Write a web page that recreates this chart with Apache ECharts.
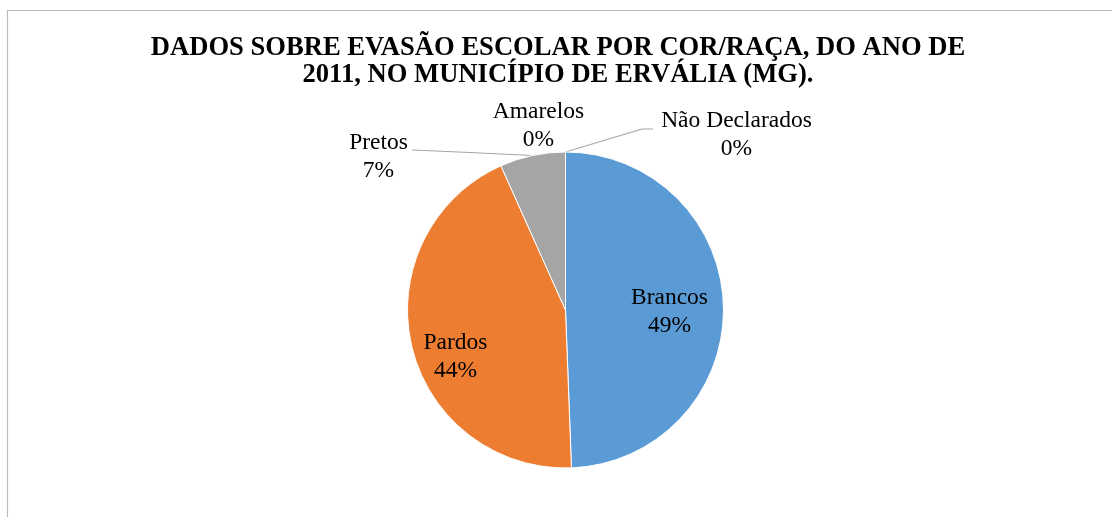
<!DOCTYPE html>
<html>
<head>
<meta charset="utf-8">
<script src="https://cdn.jsdelivr.net/npm/echarts@6/dist/echarts.min.js"></script>
<style>
html,body{margin:0;padding:0;background:#fff;}
#chart{width:1112px;height:517px;}
</style>
</head>
<body>
<div id="chart"></div>
<script>
const categories = ['Brancos', 'Pardos', 'Pretos', 'Amarelos', 'Não Declarados'];
const values = [49.4, 43.9, 6.7, 0, 0];
const colors = ['#5B9BD5', '#ED7D31', '#A5A5A5', '#FFC000', '#4472C4'];
const titleText = 'DADOS SOBRE EVASÃO ESCOLAR POR COR/RAÇA, DO ANO DE\n2011, NO MUNICÍPIO DE ERVÁLIA (MG).';

const CX = 565.5, CY = 310, R = 158;
// label block centers relative to pie centre (layout, not data)
const labelOffsets = [[104, 2], [-110, 47], [-187, -153], [-27, -184], [171, -175]];

const chart = echarts.init(document.getElementById('chart'));
const font = '"Liberation Serif", "Times New Roman", serif';

chart.setOption({
  backgroundColor: '#fff',
  animation: false,
  title: {
    text: titleText,
    left: 553,
    top: 29,
    textAlign: 'center',
    textStyle: { fontFamily: font, fontWeight: 'bold', fontSize: 26.6, lineHeight: 27.5, color: '#000' }
  },
  graphic: [{
    type: 'rect', silent: true,
    shape: { x: 7.5, y: 10.5, width: 1200, height: 600 },
    style: { fill: 'none', stroke: '#BDBDBD', lineWidth: 1.2 }
  }],
  series: [{
    type: 'pie',
    center: [CX, CY],
    radius: R,
    startAngle: 90,
    clockwise: true,
    minShowLabelAngle: 0,
    avoidLabelOverlap: false,
    percentPrecision: 0,
    itemStyle: { borderColor: '#fff', borderWidth: 1 },
    label: {
      show: true,
      formatter: '{b}\n{d}%',
      fontFamily: font,
      fontSize: 23.5,
      lineHeight: 28,
      color: '#000',
      align: 'center'
    },
    labelLine: { show: true, lineStyle: { color: '#A6A6A6', width: 1.2 }, smooth: false },
    labelLayout: function (p) {
      const o = labelOffsets[p.dataIndex];
      const res = { x: CX + o[0], y: CY + o[1], align: 'center', verticalAlign: 'middle' };
      if (p.dataIndex === 2) {
        res.labelLinePoints = [[532.6, 155.5], [470, 152.5], [412, 150]];
      } else if (p.dataIndex === 4) {
        res.labelLinePoints = [[565.5, 152], [642, 129], [653, 129]];
      }
      return res;
    },
    data: categories.map((c, i) => {
      const d = { name: c, value: values[i], itemStyle: { color: colors[i] } };
      if (i < 2) {
        d.label = { position: 'inside' };
        d.labelLine = { show: false };
      } else if (i === 3) {
        d.label = { position: 'outside' };
        d.labelLine = { show: false };
      } else {
        d.label = { position: 'outside' };
      }
      return d;
    })
  }]
});
</script>
</body>
</html>
